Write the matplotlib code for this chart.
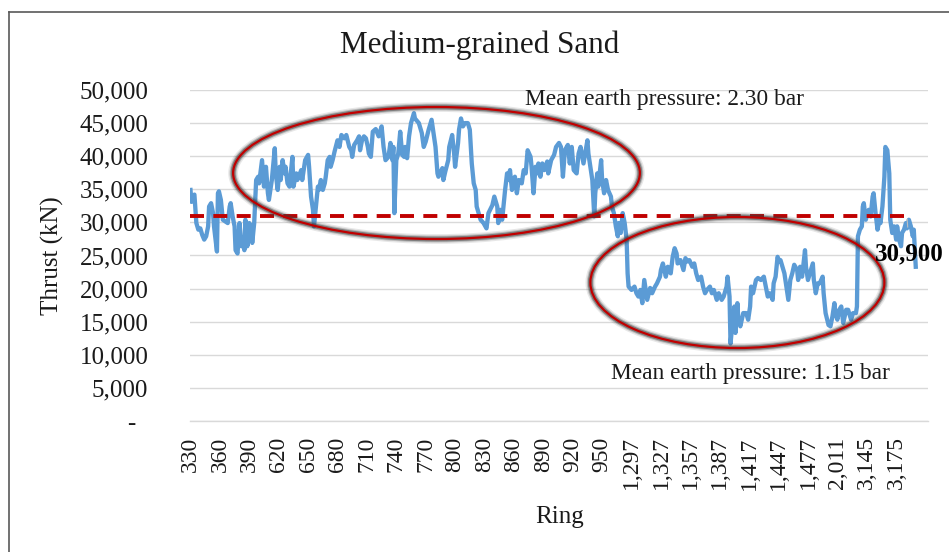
import matplotlib
matplotlib.use("Agg")
import matplotlib.pyplot as plt
from matplotlib.patches import Ellipse
from matplotlib.lines import Line2D
import matplotlib.ticker as mticker

# position of each reading along the ring axis (one step per ring record) and thrust in kN
ring_pos = [0, 1, 2, 4, 6, 8, 10, 12, 14, 16, 18, 19, 21, 23, 24, 27, 28, 29, 31, 33,
            36, 38, 40, 41, 43, 45, 46, 48, 50, 52, 53, 55, 56, 58, 60, 62, 63, 65, 67, 69,
            70, 73, 75, 77, 79, 80, 83, 86, 87, 89, 91, 92, 94, 96, 97, 99, 101, 104, 105, 108,
            109, 113, 114, 117, 120, 121, 123, 125, 126, 128, 130, 131, 133, 135, 137, 138, 140, 142, 143, 145,
            147, 150, 152, 154, 157, 159, 162, 164, 165, 167, 170, 172, 173, 175, 177, 179, 181, 182, 184, 186,
            189, 192, 195, 197, 199, 202, 204, 206, 207, 208, 210, 212, 214, 216, 218, 219, 221, 223, 225, 228,
            229, 233, 236, 238, 240, 243, 246, 248, 250, 252, 253, 257, 258, 260, 263, 264, 267, 269, 270, 273,
            274, 276, 278, 280, 283, 285, 287, 289, 291, 292, 294, 296, 299, 302, 304, 308, 310, 313, 314, 316,
            318, 321, 323, 325, 326, 328, 331, 333, 335, 338, 340, 342, 344, 347, 348, 350, 352, 354, 355, 357,
            359, 361, 364, 365, 368, 371, 373, 376, 378, 380, 382, 385, 387, 389, 391, 394, 396, 398, 401, 403,
            405, 406, 408, 410, 412, 413, 415, 416, 419, 420, 422, 424, 426, 429, 430, 432, 434, 436, 437, 439,
            441, 443, 445, 446, 447, 450, 453, 455, 457, 459, 461, 463, 464, 466, 469, 471, 474, 476, 479, 480,
            482, 485, 487, 490, 492, 494, 496, 497, 500, 503, 505, 507, 509, 512, 514, 516, 518, 521, 523, 525,
            527, 530, 532, 534, 537, 539, 542, 544, 547, 548, 550, 551, 553, 555, 556, 558, 559, 561, 564, 567,
            569, 571, 572, 574, 577, 579, 582, 585, 587, 589, 591, 594, 595, 597, 599, 601, 602, 604, 606, 608,
            610, 612, 614, 616, 619, 620, 622, 624, 627, 628, 630, 632, 635, 636, 638, 640, 642, 645, 646, 648,
            651, 653, 655, 657, 658, 660, 662, 664, 666, 669, 671, 674, 676, 679, 680, 681, 683, 685, 686, 687,
            689, 691, 692, 694, 696, 697, 699, 701, 703, 704, 706, 708, 709, 711, 713, 714, 716, 718, 720, 721,
            723, 725, 726, 728, 730, 731, 733, 735, 737, 738, 740]

thrust = [34900, 33100, 33900, 34200, 29900, 28900, 29100, 28100, 27400, 27900, 29400, 32400, 32900, 31400, 29400, 25600, 34400, 34700, 33400, 30400,
          30100, 29900, 32400, 32900, 30900, 29400, 25800, 25300, 29900, 26400, 27400, 25800, 30400, 26400, 29900, 29400, 26900, 29900, 36400, 36900,
          35900, 39400, 35400, 38400, 34400, 33400, 36400, 41200, 37400, 34900, 38400, 36400, 39400, 37400, 38400, 35900, 35400, 39900, 35400, 37400,
          36400, 37900, 36400, 39400, 40200, 38400, 33900, 31900, 29400, 32400, 35400, 34900, 36400, 34900, 35900, 36900, 39400, 39900, 38400, 39400,
          40700, 42400, 41400, 43200, 42700, 43200, 41400, 40900, 39900, 41700, 42400, 43000, 40900, 42400, 43000, 42700, 41400, 40400, 39900, 43700,
          44100, 43000, 44500, 41400, 39400, 39900, 42000, 39400, 41400, 31400, 39400, 40400, 43700, 40200, 39900, 41400, 39700, 43000, 45000, 46500,
          45700, 45000, 43500, 41400, 42200, 44000, 45500, 43500, 41400, 37400, 36900, 38200, 36400, 37700, 39400, 41400, 43200, 40400, 38400, 42000,
          44000, 45700, 44500, 45000, 45000, 44000, 38900, 35900, 34900, 32400, 31400, 30400, 29900, 29100, 31400, 32600, 33900, 32400, 29900, 31900,
          30400, 34900, 37400, 36400, 37900, 34900, 36900, 34400, 36400, 35900, 37900, 37400, 40900, 39900, 38400, 34400, 38400, 37400, 38900, 36900,
          38900, 37900, 39200, 37400, 39400, 40200, 41400, 42000, 41400, 36900, 40900, 41700, 38900, 41400, 37900, 37400, 40400, 41400, 38900, 40700,
          42400, 40400, 38400, 36400, 30900, 34400, 37400, 35400, 39400, 36400, 34400, 36400, 34900, 33900, 32400, 31400, 29400, 27900, 29900, 28400,
          31400, 29900, 27400, 22300, 20300, 19800, 20300, 19300, 18800, 19800, 17800, 21300, 20300, 18300, 20100, 19300, 20300, 20800, 21800, 22800,
          23800, 21800, 23300, 22300, 24800, 26100, 25300, 23800, 24300, 22800, 24600, 24100, 24300, 23300, 23800, 22300, 21300, 21800, 20300, 19300,
          19800, 20300, 19300, 19800, 18300, 19300, 18300, 18800, 20300, 21800, 18800, 11700, 14800, 17300, 13300, 17800, 15300, 14300, 16300, 16300,
          15300, 17300, 20300, 19300, 21300, 21600, 21300, 21800, 20300, 18800, 19300, 18300, 20800, 21800, 24800, 24100, 24300, 23300, 22300, 20300,
          18300, 21300, 22300, 23600, 22800, 21300, 23300, 21800, 25800, 23300, 21300, 22300, 23800, 21300, 19300, 20800, 20800, 21800, 19300, 16300,
          14500, 14300, 15800, 17800, 16300, 15300, 16800, 17300, 14800, 16800, 16800, 15300, 16300, 16300, 17300, 27900, 28900, 29400, 32400, 32900,
          30400, 31400, 31900, 30900, 33900, 34400, 31400, 28900, 30400, 29900, 32400, 36900, 41400, 40900, 37400, 30400, 28400, 29400, 27400, 29400,
          27400, 26400, 28400, 28900, 29900, 29100, 30400, 29400, 27900, 28900, 23300]

ring_labels = ['330', '360', '390', '620', '650', '680', '710', '740', '770', '800',
               '830', '860', '890', '920', '950', '1,297', '1,327', '1,357', '1,387', '1,417',
               '1,447', '1,477', '2,011', '3,145', '3,175']
label_pos = [i * 30 for i in range(len(ring_labels))]
n_rings = 753

mean_thrust = 30900
mean_end = 731

plt.rcParams['font.family'] = ['Liberation Serif', 'DejaVu Serif']
text_col = '#1a1a1a'

fig = plt.figure(figsize=(9.49, 5.52), dpi=100)
ax = fig.add_axes([190 / 949, 1 - 421 / 552, 738 / 949, 331 / 552])

ax.plot(ring_pos, thrust, color='#5B9BD5', lw=3.1, solid_joinstyle='round', zorder=3)
ax.plot([0, mean_end], [mean_thrust, mean_thrust], color='#C00000', lw=2.8,
        dashes=(3.6, 2.4), zorder=4)

ax.annotate(f'{mean_thrust:,}', xy=(mean_end, mean_thrust), xytext=(2, -27),
            textcoords='offset points', ha='center', va='center', fontsize=18,
            fontweight='bold', color='black', zorder=6,
            arrowprops=dict(arrowstyle='-', color='#BFBFBF', lw=0.8, shrinkA=9, shrinkB=2))

# circled regions, each with a soft grey halo under the red outline
for cx, cy, w, h in [(251, 37460, 415, 19940), (558, 20920, 300, 19790)]:
    for lw, alpha in [(7, 0.12), (5, 0.25), (3.5, 0.5)]:
        ax.add_patch(Ellipse((cx, cy), w, h, fill=False, ec='#404040', lw=lw,
                             alpha=alpha, zorder=5))
    ax.add_patch(Ellipse((cx, cy), w, h, fill=False, ec='#C00000', lw=1.6, zorder=5))

ax.text(0.6436, 0.9728, 'Mean earth pressure: 2.30 bar', transform=ax.transAxes,
        ha='center', va='center', fontsize=16.8, color=text_col, zorder=6)
ax.text(0.7588, 0.145, 'Mean earth pressure: 1.15 bar', transform=ax.transAxes,
        ha='center', va='center', fontsize=16.8, color=text_col, zorder=6)

ax.set_xlim(-0.5, n_rings - 0.5)
ax.set_ylim(0, 50000)
ax.set_yticks(range(0, 50001, 5000))
ax.yaxis.set_major_formatter(mticker.FuncFormatter(
    lambda v, p: '-  ' if v == 0 else f'{int(v):,}'))
ax.set_xticks(label_pos)
ax.set_xticklabels(ring_labels, rotation=90)
ax.tick_params(axis='y', length=0, pad=30, labelsize=18, labelcolor=text_col)
ax.tick_params(axis='x', length=0, pad=11, labelsize=17, labelcolor=text_col)

ax.yaxis.grid(True, color='#D9D9D9', lw=1)
ax.set_axisbelow(True)
for side in ['left', 'right', 'top']:
    ax.spines[side].set_visible(False)
ax.spines['bottom'].set_color('#D9D9D9')
ax.spines['bottom'].set_linewidth(1)

fig.text(480 / 949, 1 - 45 / 552, 'Medium-grained Sand', ha='center', va='center',
         fontsize=22.4, color=text_col)
fig.text(52 / 949, 1 - 256 / 552, 'Thrust (kN)', rotation=90, ha='center',
         va='center', fontsize=18, color=text_col)
fig.text(560 / 949, 1 - 517 / 552, 'Ring', ha='center', va='center',
         fontsize=18, color=text_col)

# chart frame (left and top edges fall inside the image)
fig.add_artist(Line2D([9 / 949, 9 / 949], [0, 1 - 12 / 552], color='#595959', lw=1.2))
fig.add_artist(Line2D([9 / 949, 1], [1 - 12 / 552, 1 - 12 / 552], color='#595959', lw=1.2))

fig.savefig('out.png', dpi=100)
